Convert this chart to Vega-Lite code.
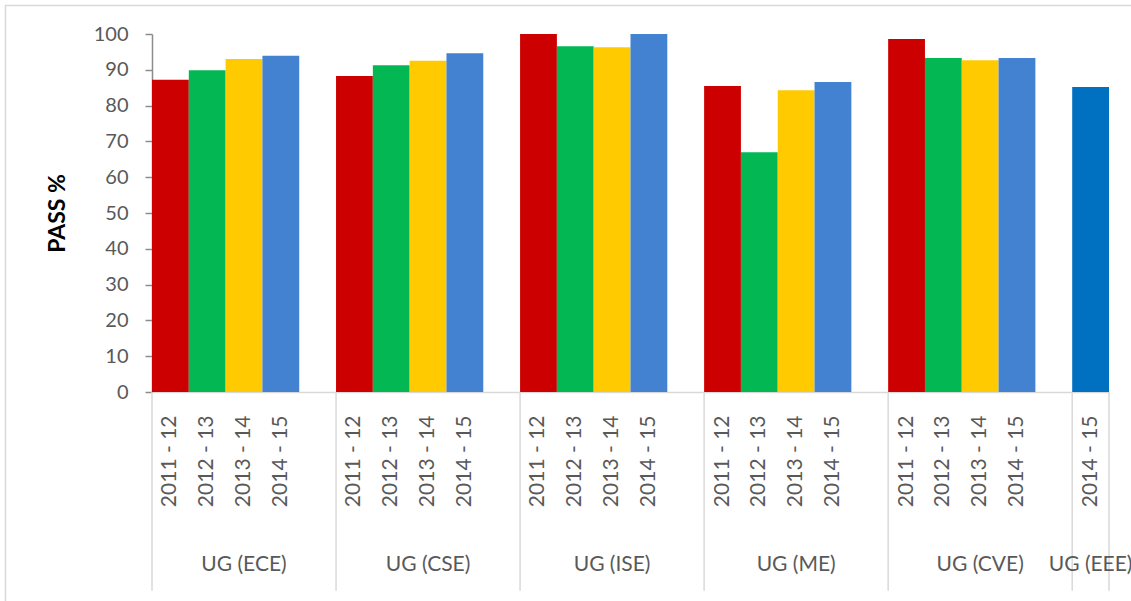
{
  "$schema": "https://vega.github.io/schema/vega-lite/v6.json",
  "width": 957,
  "height": 358,
  "autosize": {"type": "none"},
  "padding": {"left": 152, "top": 34, "right": 22, "bottom": 209},
  "background": "#ffffff",
  "config": {
    "view": {"stroke": null},
    "font": "Lato",
    "axisY": {"tickCount": 11, "labelOverlap": false, "labelFontSize": 20, "labelColor": "#595959", "labelPadding": 17, "tickSize": 7, "tickColor": "#8c8c8c", "domainColor": "#8c8c8c", "domainWidth": 1.5, "tickWidth": 1.5, "grid": false}
  },
  "datasets": {
    "bars": [
      {"key": "UG (ECE)|2011 - 12", "program": "UG (ECE)", "year": "2011 - 12", "series": "2011 - 12", "pass": 87.2},
      {"key": "UG (ECE)|2012 - 13", "program": "UG (ECE)", "year": "2012 - 13", "series": "2012 - 13", "pass": 89.9},
      {"key": "UG (ECE)|2013 - 14", "program": "UG (ECE)", "year": "2013 - 14", "series": "2013 - 14", "pass": 93.0},
      {"key": "UG (ECE)|2014 - 15", "program": "UG (ECE)", "year": "2014 - 15", "series": "2014 - 15", "pass": 93.9},
      {"key": "UG (CSE)|2011 - 12", "program": "UG (CSE)", "year": "2011 - 12", "series": "2011 - 12", "pass": 88.3},
      {"key": "UG (CSE)|2012 - 13", "program": "UG (CSE)", "year": "2012 - 13", "series": "2012 - 13", "pass": 91.3},
      {"key": "UG (CSE)|2013 - 14", "program": "UG (CSE)", "year": "2013 - 14", "series": "2013 - 14", "pass": 92.5},
      {"key": "UG (CSE)|2014 - 15", "program": "UG (CSE)", "year": "2014 - 15", "series": "2014 - 15", "pass": 94.6},
      {"key": "UG (ISE)|2011 - 12", "program": "UG (ISE)", "year": "2011 - 12", "series": "2011 - 12", "pass": 100},
      {"key": "UG (ISE)|2012 - 13", "program": "UG (ISE)", "year": "2012 - 13", "series": "2012 - 13", "pass": 96.6},
      {"key": "UG (ISE)|2013 - 14", "program": "UG (ISE)", "year": "2013 - 14", "series": "2013 - 14", "pass": 96.3},
      {"key": "UG (ISE)|2014 - 15", "program": "UG (ISE)", "year": "2014 - 15", "series": "2014 - 15", "pass": 100},
      {"key": "UG (ME)|2011 - 12", "program": "UG (ME)", "year": "2011 - 12", "series": "2011 - 12", "pass": 85.5},
      {"key": "UG (ME)|2012 - 13", "program": "UG (ME)", "year": "2012 - 13", "series": "2012 - 13", "pass": 67.0},
      {"key": "UG (ME)|2013 - 14", "program": "UG (ME)", "year": "2013 - 14", "series": "2013 - 14", "pass": 84.3},
      {"key": "UG (ME)|2014 - 15", "program": "UG (ME)", "year": "2014 - 15", "series": "2014 - 15", "pass": 86.6},
      {"key": "UG (CVE)|2011 - 12", "program": "UG (CVE)", "year": "2011 - 12", "series": "2011 - 12", "pass": 98.6},
      {"key": "UG (CVE)|2012 - 13", "program": "UG (CVE)", "year": "2012 - 13", "series": "2012 - 13", "pass": 93.3},
      {"key": "UG (CVE)|2013 - 14", "program": "UG (CVE)", "year": "2013 - 14", "series": "2013 - 14", "pass": 92.7},
      {"key": "UG (CVE)|2014 - 15", "program": "UG (CVE)", "year": "2014 - 15", "series": "2014 - 15", "pass": 93.3},
      {"key": "UG (EEE)|2014 - 15", "program": "UG (EEE)", "year": "2014 - 15", "series": "EEE 2014 - 15", "pass": 85.2}
    ],
    "groups": [
      {"program": "UG (ECE)", "start": "UG (ECE)|2011 - 12", "mid": "UG (ECE)|2013 - 14"},
      {"program": "UG (CSE)", "start": "UG (CSE)|2011 - 12", "mid": "UG (CSE)|2013 - 14"},
      {"program": "UG (ISE)", "start": "UG (ISE)|2011 - 12", "mid": "UG (ISE)|2013 - 14"},
      {"program": "UG (ME)", "start": "UG (ME)|2011 - 12", "mid": "UG (ME)|2013 - 14"},
      {"program": "UG (CVE)", "start": "UG (CVE)|2011 - 12", "mid": "UG (CVE)|2013 - 14"},
      {"program": "UG (EEE)", "start": "UG (EEE)|2014 - 15", "mid": "UG (EEE)|2014 - 15"}
    ]
  },
  "resolve": {"scale": {"x": "independent", "y": "independent"}, "axis": {"x": "independent", "y": "independent"}},
  "layer": [
    {
      "layer": [
        {
          "data": {"name": "bars"},
          "mark": {"type": "bar"},
          "encoding": {
            "x": {
              "field": "key",
              "type": "nominal",
              "sort": null,
              "scale": {
                "domain": [
                  "UG (ECE)|2011 - 12", "UG (ECE)|2012 - 13", "UG (ECE)|2013 - 14", "UG (ECE)|2014 - 15", "UG (ECE)|",
                  "UG (CSE)|2011 - 12", "UG (CSE)|2012 - 13", "UG (CSE)|2013 - 14", "UG (CSE)|2014 - 15", "UG (CSE)|",
                  "UG (ISE)|2011 - 12", "UG (ISE)|2012 - 13", "UG (ISE)|2013 - 14", "UG (ISE)|2014 - 15", "UG (ISE)|",
                  "UG (ME)|2011 - 12", "UG (ME)|2012 - 13", "UG (ME)|2013 - 14", "UG (ME)|2014 - 15", "UG (ME)|",
                  "UG (CVE)|2011 - 12", "UG (CVE)|2012 - 13", "UG (CVE)|2013 - 14", "UG (CVE)|2014 - 15", "UG (CVE)|",
                  "UG (EEE)|2014 - 15"
                ],
                "paddingInner": 0,
                "paddingOuter": 0
              },
              "axis": {
                "title": null,
                "orient": "bottom",
                "labelExpr": "split(datum.value, '|')[1]",
                "labelAngle": -90,
                "labelAlign": "right",
                "labelBaseline": "middle",
                "labelPadding": 23,
                "labelFontSize": 21,
                "labelColor": "#595959",
                "labelFont": "Lato",
                "labelOverlap": false,
                "labelLimit": 300,
                "ticks": false,
                "domainColor": "#d9d9d9",
                "domainWidth": 1.5,
                "grid": false
              }
            },
            "y": {
              "field": "pass",
              "type": "quantitative",
              "scale": {"domain": [0, 100], "nice": false, "zero": true},
              "axis": {
                "title": "PASS %",
                "titleFont": "Lato",
                "titleFontSize": 23,
                "titleFontWeight": "bold",
                "titleColor": "#000000",
                "titlePadding": 24,
                "values": [0, 10, 20, 30, 40, 50, 60, 70, 80, 90, 100],
                "tickCount": 11,
                "labelOverlap": false,
                "labelFontSize": 20,
                "labelColor": "#595959",
                "labelFont": "Lato",
                "labelPadding": 17,
                "tickSize": 7,
                "grid": false
              }
            },
            "color": {
              "field": "series",
              "type": "nominal",
              "scale": {
                "domain": ["2011 - 12", "2012 - 13", "2013 - 14", "2014 - 15", "EEE 2014 - 15"],
                "range": ["#CC0000", "#03B853", "#FFCA00", "#4381D1", "#0070C0"]
              },
              "legend": null
            }
          }
        },
        {
          "data": {"name": "groups"},
          "mark": {"type": "rule", "color": "#d9d9d9", "strokeWidth": 1.5},
          "encoding": {
            "x": {"field": "start", "type": "nominal", "bandPosition": 0},
            "y": {"datum": 0, "type": "quantitative"},
            "y2": {"datum": -55.5}
          }
        },
        {
          "data": {"values": [{"edge": "end"}]},
          "mark": {"type": "rule", "color": "#d9d9d9", "strokeWidth": 1.5},
          "encoding": {
            "x": {"datum": "UG (EEE)|2014 - 15", "type": "nominal", "bandPosition": 1},
            "y": {"datum": 0, "type": "quantitative"},
            "y2": {"datum": -55.5}
          }
        },
        {
          "data": {"name": "groups"},
          "mark": {"type": "text", "font": "Lato", "fontSize": 21, "color": "#595959", "align": "center", "baseline": "middle"},
          "encoding": {
            "x": {"field": "mid", "type": "nominal", "bandPosition": 0.5},
            "y": {"datum": -48.3, "type": "quantitative"},
            "text": {"field": "program"}
          }
        }
      ]
    },
    {
      "data": {"values": [{"frame": "chart"}]},
      "mark": {"type": "rect", "fillOpacity": 0, "stroke": "#d9d9d9", "strokeWidth": 1.5},
      "encoding": {
        "x": {"datum": -0.1531, "type": "quantitative", "scale": {"domain": [0, 1], "nice": false, "zero": false}, "axis": null},
        "x2": {"datum": 1.1},
        "y": {"datum": 107.96, "type": "quantitative", "scale": {"domain": [0, 100], "nice": false, "zero": false}, "axis": null},
        "y2": {"datum": -62}
      }
    }
  ]
}
